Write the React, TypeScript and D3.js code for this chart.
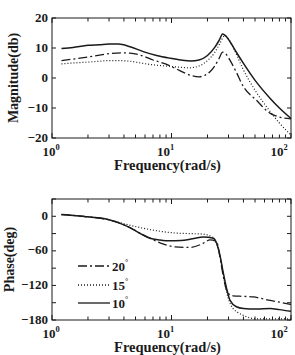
import React from "react";
import * as d3 from "d3";

// Magnitude response (dB) for three angles
const magFreq10 = [1.2, 1.5, 2, 2.5, 3, 3.6, 4.5, 5.8, 7.5, 9.7, 12, 14.5, 17, 20, 23, 25, 26.8, 28.5, 31, 35, 40, 51, 67, 80, 100];
const magDb10 = [9.8, 10.2, 10.9, 11.1, 11.3, 11.3, 10.4, 8.8, 7.5, 6.6, 6.0, 5.7, 6.0, 7.5, 10.2, 12.5, 14.7, 14.0, 12.0, 8.5, 4.9, -1.2, -6.8, -10, -13.5];

const magFreq15 = [1.2, 1.5, 2, 2.5, 3, 3.5, 4.5, 5.5, 7, 9, 11, 14, 17, 20, 23, 25, 28, 30, 33, 40, 51, 67, 80, 100];
const magDb15 = [4.7, 5.0, 5.3, 5.6, 5.8, 5.8, 5.6, 5.0, 4.4, 4.0, 3.7, 3.4, 4.0, 5.8, 8.5, 11.0, 14.1, 13.0, 10.0, 2.7, -4.6, -11.2, -15, -19];

const magFreq20 = [1.2, 1.5, 2, 2.5, 3, 3.8, 4.5, 5.5, 7, 9, 11, 13, 15, 17, 19, 21, 23, 25, 26.8, 28.5, 31, 35, 40, 51, 67, 80, 100];
const magDb20 = [5.8, 6.3, 7.0, 7.6, 8.1, 8.4, 8.3, 7.6, 6.0, 4.6, 3.0, 1.6, 0.7, 0.4, 0.9, 2.1, 4.0, 6.5, 8.6, 8.0, 5.8, 1.8, -2.9, -7.3, -11.8, -13.0, -13.6];

// Phase response (deg) for three angles
const phFreq10 = [1.2, 1.6, 2, 2.5, 3, 4, 4.8, 5.5, 6.6, 8, 9.7, 12, 15, 18.5, 22.4, 24, 25.4, 27, 28.9, 30.9, 34.9, 40, 51.5, 67, 80, 100];
const phDeg10 = [3, 1, -1, -3, -6, -15, -23, -30, -38, -41, -42.5, -42, -39, -36, -38, -48, -67, -96, -125, -146, -157, -160, -161, -160, -162, -165];

const phFreq15 = [1.2, 1.6, 2, 2.5, 3, 4, 4.8, 6.6, 8, 10.7, 14, 18.5, 21, 22.5, 24, 26.3, 27.5, 28.9, 30.5, 32.7, 36, 39.9, 45, 51.5, 67, 100];
const phDeg15 = [3, 1, -1, -3, -6, -13, -17, -23, -26, -29, -30, -31, -34, -38, -50, -84, -108, -131, -148, -160, -167, -172, -176, -178, -178, -178];

const phFreq20 = [1.2, 1.6, 2, 2.5, 3, 4, 4.8, 5.5, 6.6, 8, 10.7, 14.3, 18, 21, 23.8, 25.4, 27, 28.3, 29.9, 32.7, 40, 48.3, 67, 80, 100];
const phDeg20 = [3, 1, -1, -3, -6, -15, -23, -30, -38, -46, -53, -54, -48, -41, -44, -70, -102, -122, -134, -138, -139, -140, -146, -149, -153];

const magTicks = [20, 10, 0, -10, -20];
const phaseMinorTicks = [30, 0, -30, -60, -90, -120, -150, -180];
const phaseLabels = [0, -60, -120, -180];
const decadeExps = [0, 1, 2];
const legendLabels = ["20", "15", "10"];

const FONT = "'Liberation Serif', 'Times New Roman', serif";
const INK = "#1a1a1a";

type Series = { f: number[]; v: number[]; dash: string; width: number };

const minorFreqs: number[] = [];
for (const base of [1, 10]) for (let m = 2; m <= 9; m++) minorFreqs.push(base * m);

// horizontal nudge of each decade label so the last one stays inside the frame
const decadeLabelShift = [-1, -6, -12];

function fmt(v: number) {
  return v < 0 ? "\u2212" + Math.abs(v) : String(v);
}

function Panel(props: {
  top: number;
  bottom: number;
  domain: [number, number];
  yTicks: number[];
  yLabels: number[];
  yTitle: string;
  yTitleX: number;
  series: Series[];
  children?: React.ReactNode;
}) {
  const left = 52;
  const right = 291;
  const x = d3.scaleLog().domain([1, 100]).range([left, right]);
  const y = d3.scaleLinear().domain(props.domain).range([props.bottom, props.top]);
  const line = (s: Series) =>
    d3
      .line<number>()
      .x((_, i) => x(s.f[i]))
      .y((d) => y(d))
      .curve(d3.curveMonotoneX)(s.v) || "";
  const majT = 5;
  const minT = 3.5;
  const midY = (props.top + props.bottom) / 2;
  return (
    <g>
      <rect x={left} y={props.top} width={right - left} height={props.bottom - props.top} fill="none" stroke={INK} strokeWidth={1} />
      {/* x ticks, inward on bottom and top */}
      {decadeExps.map((e, i) => (
        <g key={"M" + e}>
          <line x1={x(10 ** e)} x2={x(10 ** e)} y1={props.bottom} y2={props.bottom - majT} stroke={INK} />
          <line x1={x(10 ** e)} x2={x(10 ** e)} y1={props.top} y2={props.top + majT} stroke={INK} />
          <text x={x(10 ** e) + decadeLabelShift[i]} y={props.bottom + 17.5} textAnchor="middle" fontFamily={FONT} fontWeight="bold" fontSize={13} fill={INK}>
            10
            <tspan dy={-5.5} fontSize={8.5}>{e}</tspan>
          </text>
        </g>
      ))}
      {minorFreqs.map((f) => (
        <g key={"m" + f}>
          <line x1={x(f)} x2={x(f)} y1={props.bottom} y2={props.bottom - minT} stroke={INK} />
          <line x1={x(f)} x2={x(f)} y1={props.top} y2={props.top + minT} stroke={INK} />
        </g>
      ))}
      {/* y ticks, inward on left and right */}
      {props.yTicks.map((t) => (
        <g key={"y" + t}>
          <line x1={left} x2={left + 4} y1={y(t)} y2={y(t)} stroke={INK} />
          <line x1={right} x2={right - 4} y1={y(t)} y2={y(t)} stroke={INK} />
        </g>
      ))}
      {props.yLabels.map((t) => (
        <text key={"yl" + t} x={left - 4} y={y(t) + 3.5} textAnchor="end" fontFamily={FONT} fontWeight="bold" fontSize={13} fill={INK}>
          {fmt(t)}
        </text>
      ))}
      {props.series.map((s, i) => (
        <path key={i} d={line(s)} fill="none" stroke={INK} strokeWidth={s.width} strokeDasharray={s.dash} />
      ))}
      <text
        transform={`translate(${props.yTitleX},${midY}) rotate(-90)`}
        textAnchor="middle"
        fontFamily={FONT}
        fontWeight="bold"
        fontSize={14}
        fill={INK}
      >
        {props.yTitle}
      </text>
      <text x={(left + right) / 2 - 4} y={props.bottom + 32} textAnchor="middle" fontFamily={FONT} fontWeight="bold" fontSize={14.5} fill={INK}>
        Frequency(rad/s)
      </text>
      {props.children}
    </g>
  );
}

const SOLID = "";
const DOTTED = "1,2";
const DASHDOT = "9,3,2,3";

export default function App() {
  const magSeries: Series[] = [
    { f: magFreq15, v: magDb15, dash: DOTTED, width: 1.2 },
    { f: magFreq20, v: magDb20, dash: DASHDOT, width: 1.3 },
    { f: magFreq10, v: magDb10, dash: SOLID, width: 1.5 },
  ];
  const phSeries: Series[] = [
    { f: phFreq15, v: phDeg15, dash: DOTTED, width: 1.2 },
    { f: phFreq20, v: phDeg20, dash: DASHDOT, width: 1.3 },
    { f: phFreq10, v: phDeg10, dash: SOLID, width: 1.5 },
  ];
  const legendDash = [DASHDOT, DOTTED, SOLID];
  const legendY = [266, 285, 303];
  return (
    <svg width={295} height={355} style={{ position: "absolute", left: 0, top: 0, background: "#fff" }}>
      <Panel
        top={18}
        bottom={138}
        domain={[-20, 20]}
        yTicks={magTicks}
        yLabels={magTicks}
        yTitle="Magnitude(db)"
        yTitleX={18}
        series={magSeries}
      />
      <Panel
        top={199}
        bottom={320}
        domain={[-180, 30]}
        yTicks={phaseMinorTicks}
        yLabels={phaseLabels}
        yTitle="Phase(deg)"
        yTitleX={14}
        series={phSeries}
      >
        {legendLabels.map((lab, i) => (
          <g key={lab}>
            <line x1={78} x2={110} y1={legendY[i]} y2={legendY[i]} stroke={INK} strokeWidth={1.3} strokeDasharray={legendDash[i]} />
            <text x={112} y={legendY[i] + 5} fontFamily={FONT} fontWeight="bold" fontSize={13} fill={INK}>
              {lab}
              <tspan dy={-6} fontSize={8}>°</tspan>
            </text>
          </g>
        ))}
      </Panel>
    </svg>
  );
}
